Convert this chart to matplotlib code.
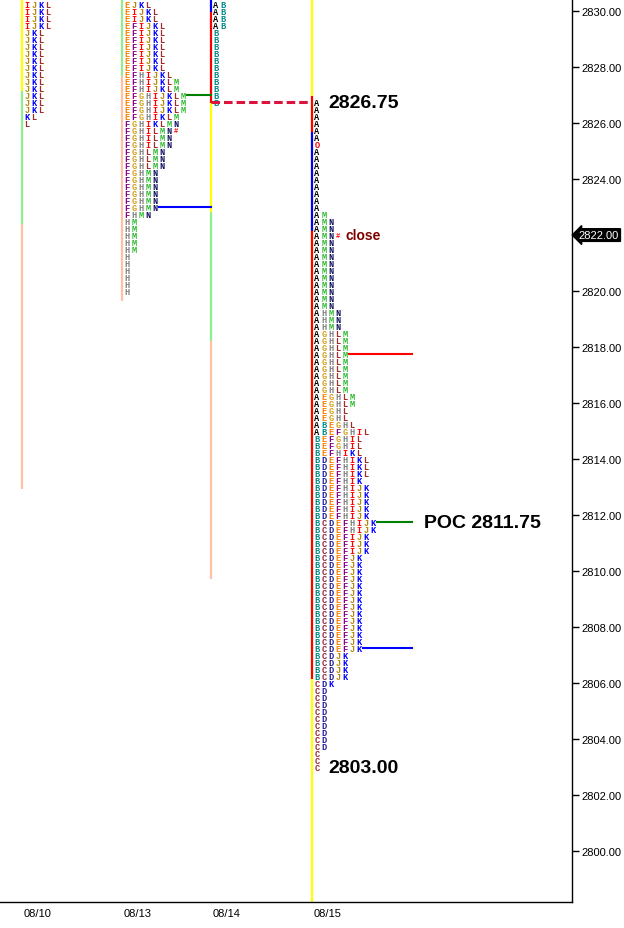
# Market profile (TPO) chart, ES 08/10 - 08/15
import matplotlib.pyplot as plt
import matplotlib.transforms as mtransforms

# day labels and where each profile column sits (pixel-like x units)
days = ["08/10", "08/13", "08/14", "08/15"]
day_x = [22, 122, 211, 312]

# price of the first (top) row of each profile, tick = 0.25
top_price = [2830.25, 2830.25, 2830.25, 2826.75]

# TPO rows, top to bottom
rows_0810 = ["IJKL"] * 4 + ["JKL"] * 12 + ["KL", "L"]

rows_0813 = (["EJKL", "EIJKL", "EIJKL"] + ["EFIJKL"] * 7 +
             ["EFHIJKL", "EFHIJKLM", "EFHIJKLM"] + ["EFGHIJKLM"] * 3 +
             ["EFGHIKLM", "FGHIKLMN", "FGHILMN#", "FGHILMN", "FGHILMN"] +
             ["FGHLMN"] * 3 + ["FGHMN"] * 6 + ["FHMN"] + ["HM"] * 5 + ["H"] * 6)

rows_0814 = ["AB"] * 4 + ["B"] * 11

rows_0815 = (["A"] * 6 + ["O"] + ["A"] * 9 + ["AM"] + ["AMN"] * 2 + ["AMN#"] +
             ["AMN"] * 10 + ["AHMN"] * 3 + ["AGHLM"] * 9 + ["AEGHLM"] * 2 +
             ["AEGHL"] * 2 + ["ABEGHL", "ABEFGHIL"] + ["BEFGHIL"] * 2 +
             ["BEFHIKL"] + ["BDEFHIKL"] * 3 + ["BDEFHIK"] + ["BDEFHIJK"] * 5 +
             ["BCDEFHIJK"] * 2 + ["BCDEFIJK"] * 3 + ["BCDEFJK"] * 14 +
             ["BCDJK"] * 4 + ["CDK"] + ["CD"] * 9 + ["C"] * 3)

profiles = [rows_0810, rows_0813, rows_0814, rows_0815]

# colored range bars on the left of each profile: (from price, to price, color)
bars = [
    [(2831, 2827.15, "#FFFF00"), (2827.15, 2822.4, "#90EE90"), (2822.4, 2812.93, "#FFC0A4")],
    [(2831, 2827.68, "#90EE90"), (2827.68, 2819.65, "#FFC0A4")],
    [(2831, 2829.96, "#0000FF"), (2829.96, 2826.71, "#FF0000"), (2826.71, 2822.82, "#FFFF00"),
     (2822.82, 2818.21, "#90EE90"), (2818.21, 2809.71, "#FFC0A4")],
    [(2831, 2797, "#FFFF00"), (2826.96, 2825.68, "#FF0000"), (2825.68, 2822.14, "#0000FF"),
     (2822.14, 2806.14, "#FF0000")],
]

# value-area style levels: (day index, price, color)
levels = [(1, 2827.0, "#008000"), (1, 2823.0, "#0000FF"),
          (3, 2817.75, "#FF0000"), (3, 2811.75, "#008000"), (3, 2807.25, "#0000FF")]

high_0815 = 2826.75
low_0815 = 2803.00
poc_0815 = 2811.75
last_price = 2822.00

letter_colors = {
    "A": "#000000", "B": "#008B8B", "C": "#9B2335", "D": "#1F1FA0",
    "E": "#FF8000", "F": "#8B008B", "G": "#D4A017", "H": "#808080",
    "I": "#FF0000", "J": "#B8860B", "K": "#0000FF", "L": "#A52A2A",
    "M": "#2DB82D", "N": "#101060", "O": "#FF0000", "#": "#FF0000",
}

TICK = 0.25
STEP = 7  # px per letter slot

fig = plt.figure(figsize=(6.24, 9.29), dpi=100)
ax = fig.add_axes([0, 26 / 929, 572 / 624, 903 / 929])
ax.set_xlim(0, 572)
ax.set_ylim(2798.18, 2830.43)

# range bars
for d, segs in enumerate(bars):
    for p0, p1, c in segs:
        ax.plot([day_x[d], day_x[d]], [p0, p1], color=c, lw=1.6,
                solid_capstyle="butt", zorder=2)

# letters
for d, rows in enumerate(profiles):
    for r, row in enumerate(rows):
        price = top_price[d] - r * TICK
        for i, ch in enumerate(row):
            ax.text(day_x[d] + 5 + STEP * i, price, ch,
                    color=letter_colors[ch], ha="center", va="center",
                    fontsize=5 if ch == "#" else 6.2,
                    family="Liberation Mono", weight="bold", zorder=3)

# level lines
for d, price, c in levels:
    rows = profiles[d]
    r = int(round((top_price[d] - price) / TICK))
    x0 = day_x[d] + 5 + STEP * len(rows[r]) - 3.5
    x1 = day_x[d + 1] if d + 1 < len(day_x) else day_x[d] + 100
    ax.plot([x0, x1], [price, price], color=c, lw=1.5, zorder=2)

# 08/14 low carried forward
ax.plot([day_x[2], day_x[3]], [high_0815, high_0815], color="#DC143C", lw=2.2,
        dashes=(2.8, 1.3), zorder=4)

big = dict(fontsize=14, weight="bold", family="Liberation Sans", va="center")
ax.text(day_x[3] + 16, high_0815, f"{high_0815:.2f}", ha="left", **big)
ax.text(day_x[3] + 16, low_0815, f"{low_0815:.2f}", ha="left", **big)
ax.text(day_x[3] + 112, poc_0815, f"POC {poc_0815:.2f}", ha="left", **big)
ax.text(day_x[3] + 34, last_price, "close", color="#800000", fontsize=10,
        weight="bold", family="Liberation Sans", va="center", ha="left")

# axes styling
for s in ["left", "top"]:
    ax.spines[s].set_visible(False)
ax.spines["right"].set_linewidth(1)
ax.spines["bottom"].set_linewidth(1)

yt = list(range(2800, 2831, 2))
ax.yaxis.tick_right()
ax.set_yticks(yt)
ax.set_yticklabels([f"{v:.2f}" for v in yt], fontsize=8, family="Liberation Sans")
ax.tick_params(axis="y", length=5, width=1, pad=2)

ax.set_xticks([x + 16 for x in day_x])
ax.set_xticklabels(days, fontsize=8, family="Liberation Sans")
ax.tick_params(axis="x", length=0, pad=4)

trans = mtransforms.blended_transform_factory(ax.transAxes, ax.transData)
ax.text(1.012, last_price, f"{last_price:.2f}", transform=trans, color="white",
        fontsize=8, family="Liberation Sans", ha="left", va="center", zorder=6,
        bbox=dict(boxstyle="larrow,pad=0.12", fc="black", ec="black"))

plt.savefig("out.png", dpi=100)
